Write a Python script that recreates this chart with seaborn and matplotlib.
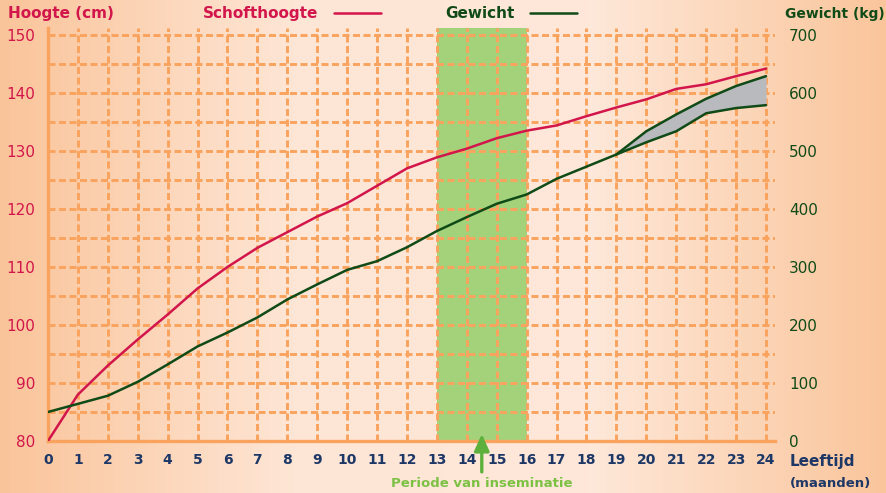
import numpy as np
import pandas as pd
import matplotlib
matplotlib.use("Agg")
from matplotlib import pyplot as plt
from matplotlib.colors import LinearSegmentedColormap
import seaborn as sns

# data
months = list(range(25))
schofthoogte = [80, 88, 93, 97.5, 101.8, 106.3, 110, 113.3, 116, 118.7, 121, 124, 127,
                128.9, 130.4, 132.2, 133.5, 134.4, 136, 137.5, 138.9, 140.7, 141.5, 142.9, 144.2]
gewicht = [50, 64, 78, 102, 132, 163, 187, 213, 244, 270, 295, 310, 334,
           362, 386, 409, 425, 452, 473, 494, 534, 563, 590, 612, 629]
months_low = [19, 20, 21, 22, 23, 24]
gewicht_low = [494, 515, 534, 565, 574, 579]
height_ticks = [80, 90, 100, 110, 120, 130, 140, 150]
weight_ticks = [0, 100, 200, 300, 400, 500, 600, 700]
insemination = (13, 16)
insemination_mark = 14.5

RED = "#D2164B"
DKGREEN = "#0F4A17"
NAVY = "#1D3766"
ORANGE = "#F9A35E"
BAND = "#A3D27A"
ARROW = "#5DB03C"

sns.set_style("white")
plt.rcParams["font.family"] = ["DejaVu Sans"]

fig = plt.figure(figsize=(8.87, 4.93), dpi=100)

# background gradient
bg = fig.add_axes([0, 0, 1, 1], zorder=-10)
cmap = LinearSegmentedColormap.from_list("bg", ["#FAC49A", "#FEE6D6", "#FEE8D9", "#FAC59B"])
bg.imshow(np.linspace(0, 1, 256)[None, :], aspect="auto", cmap=cmap, extent=[0, 1, 0, 1])
bg.axis("off")

ax = fig.add_axes([0.0541, 0.1055, 0.8196, 0.8377])
ax.patch.set_visible(False)
ymax = 151.2
ax.set_xlim(0, 24.3)
ax.set_ylim(80, ymax)

ax.axvspan(*insemination, color=BAND, zorder=0.2, lw=0)

df_h = pd.DataFrame({"maand": months, "hoogte": schofthoogte})
sns.lineplot(data=df_h, x="maand", y="hoogte", ax=ax, color=RED, lw=1.8, zorder=5)

ax.set_xticks(months)
ax.set_xticklabels([str(m) for m in months], color=NAVY, fontweight="bold", fontsize=10)
ax.set_yticks(height_ticks)
ax.set_yticklabels([str(t) for t in height_ticks], color=RED, fontsize=11)
ax.set_yticks(np.arange(85, 150, 10), minor=True)
ax.tick_params(axis="both", which="both", length=0)
ax.tick_params(axis="x", pad=9)
ax.tick_params(axis="y", pad=9)
ax.set_axisbelow(True)
ax.grid(True, which="both", color=ORANGE, lw=2.1, linestyle=(0, (2.4, 1.2)))
ax.set_xlabel("")
ax.set_ylabel("")
for s in ["top", "right"]:
    ax.spines[s].set_visible(False)
for s in ["left", "bottom"]:
    ax.spines[s].set_color(ORANGE)
    ax.spines[s].set_linewidth(2.4)

ax2 = ax.twinx()
ax2.set_ylim(0, (ymax - 80) * 10)
ax2.fill_between(months_low, gewicht_low, gewicht[19:], color="#B8BABE", lw=0, zorder=1)
df_w = pd.DataFrame({"maand": months, "gewicht": gewicht})
sns.lineplot(data=df_w, x="maand", y="gewicht", ax=ax2, color=DKGREEN, lw=1.8, zorder=5)
ax2.plot(months_low, gewicht_low, color=DKGREEN, lw=1.8, zorder=5)
ax2.set_yticks(weight_ticks)
ax2.set_yticklabels([str(t) for t in weight_ticks], color=DKGREEN, fontsize=11)
ax2.tick_params(axis="y", length=0, pad=10)
ax2.set_ylabel("")
for s in ["top", "right", "left", "bottom"]:
    ax2.spines[s].set_visible(False)

# legend (text first, then line)
h1 = ax.get_lines()[0]
h2 = ax2.get_lines()[0]
leg = fig.legend([h1, h2], ["Schofthoogte", "Gewicht"], ncol=2, markerfirst=False,
                 frameon=False, loc="center", bbox_to_anchor=(0.44, 0.972),
                 handlelength=3.1, handletextpad=1.0, columnspacing=4.2,
                 prop={"weight": "bold", "size": 11})
leg.get_texts()[0].set_color(RED)
leg.get_texts()[1].set_color(DKGREEN)

fig.text(8 / 887, 0.972, "Hoogte (cm)", color=RED, fontweight="bold", fontsize=11, va="center")
fig.text(0.998, 0.972, "Gewicht (kg)", color=DKGREEN, fontweight="bold", fontsize=10,
         va="center", ha="right")
fig.text(790 / 887, 0.063, "Leeftijd", color=NAVY, fontweight="bold", fontsize=11, va="center")
fig.text(790 / 887, 0.02, "(maanden)", color=NAVY, fontweight="bold", fontsize=9.5, va="center")

ax.text(insemination_mark, -0.104, "Periode van inseminatie", transform=ax.get_xaxis_transform(),
        ha="center", va="center", color="#7CC144", fontweight="bold", fontsize=9.5)
ax.annotate("", xy=(insemination_mark, 0.017), xycoords=("data", "axes fraction"),
            xytext=(insemination_mark, -0.075), textcoords=("data", "axes fraction"),
            arrowprops=dict(arrowstyle="-|>,head_width=0.45,head_length=1.0",
                            color=ARROW, lw=2.4, shrinkA=0, shrinkB=0),
            annotation_clip=False, zorder=6)

fig.savefig("out.png", dpi=100)
